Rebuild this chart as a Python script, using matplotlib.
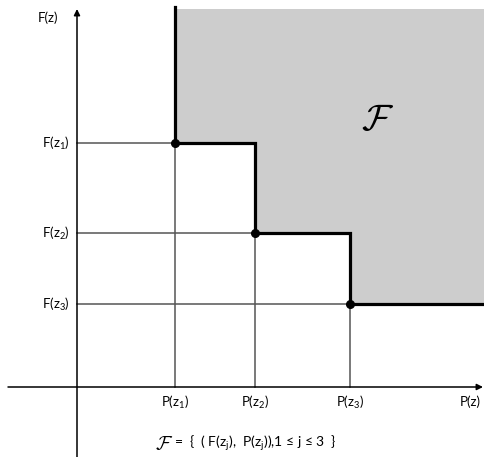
import matplotlib
matplotlib.use("Agg")
import matplotlib.pyplot as plt
from matplotlib.patches import Polygon

plt.rcParams["font.family"] = ["Lato", "DejaVu Sans"]
plt.rcParams["mathtext.fontset"] = "custom"
plt.rcParams["mathtext.rm"] = "Lato"
plt.rcParams["mathtext.it"] = "Lato"

# Pareto points: P(z_j) on the horizontal axis, F(z_j) on the vertical axis
p_values = [0.98, 1.78, 2.73]
f_values = [2.44, 1.54, 0.83]
p_labels = ["P(z$_1$)", "P(z$_2$)", "P(z$_3$)"]
f_labels = ["F(z$_1$)", "F(z$_2$)", "F(z$_3$)"]

fig = plt.figure(figsize=(4.85, 4.57), dpi=100)
ax = fig.add_axes([0, 0, 1, 1])
ax.set_xlim(-0.77, 4.08)
ax.set_ylim(-0.70, 3.87)
ax.axis("off")

x_end, y_top = 4.05, 3.80

# dominated region (staircase and everything above / to the right)
stair_x = [p_values[0]]
stair_y = [y_top]
for i, (p, f) in enumerate(zip(p_values, f_values)):
    stair_x += [p]
    stair_y += [f]
    nxt = p_values[i + 1] if i + 1 < len(p_values) else x_end
    stair_x += [nxt]
    stair_y += [f]
poly = [(stair_x[0], 3.78)] + list(zip(stair_x, stair_y))[1:] + [(4.08, stair_y[-1]), (4.08, 3.78)]
ax.add_patch(Polygon(poly, closed=True, facecolor="#cdcdcd", edgecolor="none", zorder=1))

# guide lines from each point to the axes
for p, f in zip(p_values, f_values):
    ax.plot([0, p], [f, f], color="#555555", lw=1.1, zorder=2)
    ax.plot([p, p], [0, f], color="#555555", lw=1.1, zorder=2)

# staircase boundary
ax.plot(stair_x, stair_y, color="black", lw=2.3, solid_joinstyle="miter", zorder=3)
ax.plot(p_values, f_values, "o", color="black", ms=5.5, zorder=4)

# axes with arrows
arrow = dict(arrowstyle="-|>", lw=1.1, color="black", mutation_scale=9, shrinkA=0, shrinkB=0)
ax.annotate("", xy=(4.06, 0), xytext=(-0.69, 0), arrowprops=arrow, zorder=5)
ax.annotate("", xy=(0, 3.78), xytext=(0, -0.70), arrowprops=arrow, zorder=5)

fs = 9.5
ax.text(-0.29, 3.69, "F(z)", ha="center", va="center", fontsize=fs)
ax.text(3.93, -0.15, "P(z)", ha="center", va="center", fontsize=fs)
for f, lab in zip(f_values, f_labels):
    ax.text(-0.07, f, lab, ha="right", va="center", fontsize=fs)
for p, lab in zip(p_values, p_labels):
    ax.text(p, -0.15, lab, ha="center", va="center", fontsize=fs)

ax.text(3.01, 2.68, r"$\mathcal{F}$", ha="center", va="center", fontsize=27,
        math_fontfamily="cm")

ax.text(0.96, -0.565, r"$\mathcal{F}$", ha="right", va="center", fontsize=14,
        math_fontfamily="cm")
ax.text(0.975, -0.565, "=  {  ( F(z$_j$),  P(z$_j$)),1 \u2264 j \u2264 3  }", ha="left",
        va="center", fontsize=10)

fig.savefig("out.png", dpi=100)
